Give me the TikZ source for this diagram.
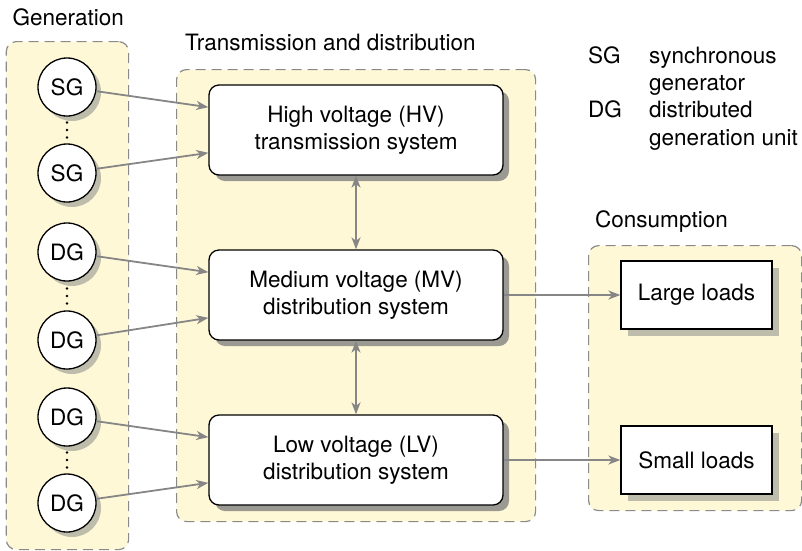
\documentclass[tikz,border=0pt]{standalone}
\usepackage{fontspec}
\setmainfont{TeX Gyre Heros}
\usetikzlibrary{arrows.meta,shadows,calc}
\definecolor{bgyellow}{HTML}{FFF8D6}
\definecolor{dashgray}{HTML}{8A8A8A}
\definecolor{arrgray}{HTML}{868686}
\definecolor{darkshadow}{HTML}{9A9A93}
\definecolor{lightshadow}{HTML}{BEBDAC}
\begin{document}
\begin{tikzpicture}[x=1pt,y=-1pt,
  font=\fontsize{22.5}{27}\selectfont,
  container/.style={draw=dashgray, dash pattern=on 10pt off 6pt, line width=1.2pt,
    fill=bgyellow, rounded corners=10pt, inner sep=0pt, anchor=north west},
  gen/.style={circle, draw=black, line width=1.3pt, fill=white, minimum size=58pt, inner sep=0pt,
    drop shadow={shadow xshift=5pt, shadow yshift=-5pt, fill=lightshadow, opacity=1}},
  sysbox/.style={draw=black, line width=1.3pt, fill=white, rounded corners=10pt,
    minimum width=294pt, minimum height=90pt, align=center, inner sep=0pt,
    drop shadow={shadow xshift=6pt, shadow yshift=-6pt, fill=darkshadow, opacity=1}},
  loadbox/.style={draw=black, line width=1.3pt, fill=white, minimum width=151pt,
    minimum height=68pt, inner sep=0pt,
    drop shadow={shadow xshift=7pt, shadow yshift=-7pt, fill=lightshadow, opacity=1}},
  tip/.tip={Stealth[length=12pt,width=9pt,inset=3.5pt]},
  flow/.style={draw=arrgray, line width=1.8pt, -tip},
  biflow/.style={draw=arrgray, line width=1.8pt, tip-tip},
  lbl/.style={anchor=base west, inner sep=0pt},
  dotmark/.style={fill=black, draw=none, circle, inner sep=0pt, minimum size=2.8pt}
]
\useasboundingbox (0,0) rectangle (802,550);

% containers
\node[container, minimum width=122.3pt, minimum height=508pt] (genarea) at (5.7,41) {};
\node[container, minimum width=359pt, minimum height=452pt] (tdarea) at (176,69) {};
\node[container, minimum width=213pt, minimum height=265pt] (conarea) at (588,245) {};

% container labels
\node[lbl] (genlabel) at (12.5,25) {Generation};
\node[lbl] (tdlabel) at (185,50) {Transmission and distribution};
\node[lbl] (conlabel) at (595,227) {Consumption};

% legend
\node[lbl] (sgkey) at (588,63) {SG};
\node[lbl] (sgdesc) at (649,63) {synchronous};
\node[lbl] (sgdesc2) at (649,90) {generator};
\node[lbl] (dgkey) at (588,117) {DG};
\node[lbl] (dgdesc) at (649,117) {distributed};
\node[lbl] (dgdesc2) at (649,145) {generation unit};

% system boxes
\node[sysbox] (hv) at (356,130) {High voltage (HV)\\transmission system};
\node[sysbox] (mv) at (356,295) {Medium voltage (MV)\\distribution system};
\node[sysbox] (lv) at (356,460) {Low voltage (LV)\\distribution system};

% loads
\node[loadbox] (large) at (696.5,295) {Large loads};
\node[loadbox] (small) at (696.5,460) {Small loads};

% generators
\node[gen] (sg1) at (67,87) {SG};
\node[gen] (sg2) at (67,173) {SG};
\node[gen] (dg1) at (67,252) {DG};
\node[gen] (dg2) at (67,340) {DG};
\node[gen] (dg3) at (67,417) {DG};
\node[gen] (dg4) at (67,503) {DG};

% vertical ellipses between generators
\foreach \m in {130,296,460}{
  \foreach \d in {-7.5,0,7.5}{
    \node[dotmark] at (67,\m+\d) {};
  }
}

% connectors
\draw[flow] (sg1) -- ($(hv.north west)!0.25!(hv.south west)$);
\draw[flow] (sg2) -- ($(hv.north west)!0.75!(hv.south west)$);
\draw[flow] (dg1) -- ($(mv.north west)!0.25!(mv.south west)$);
\draw[flow] (dg2) -- ($(mv.north west)!0.75!(mv.south west)$);
\draw[flow] (dg3) -- ($(lv.north west)!0.25!(lv.south west)$);
\draw[flow] (dg4) -- ($(lv.north west)!0.75!(lv.south west)$);

\draw[biflow] (hv) -- (mv);
\draw[biflow] (mv) -- (lv);

\draw[flow] (mv) -- (large);
\draw[flow] (lv) -- (small);
\end{tikzpicture}
\end{document}
